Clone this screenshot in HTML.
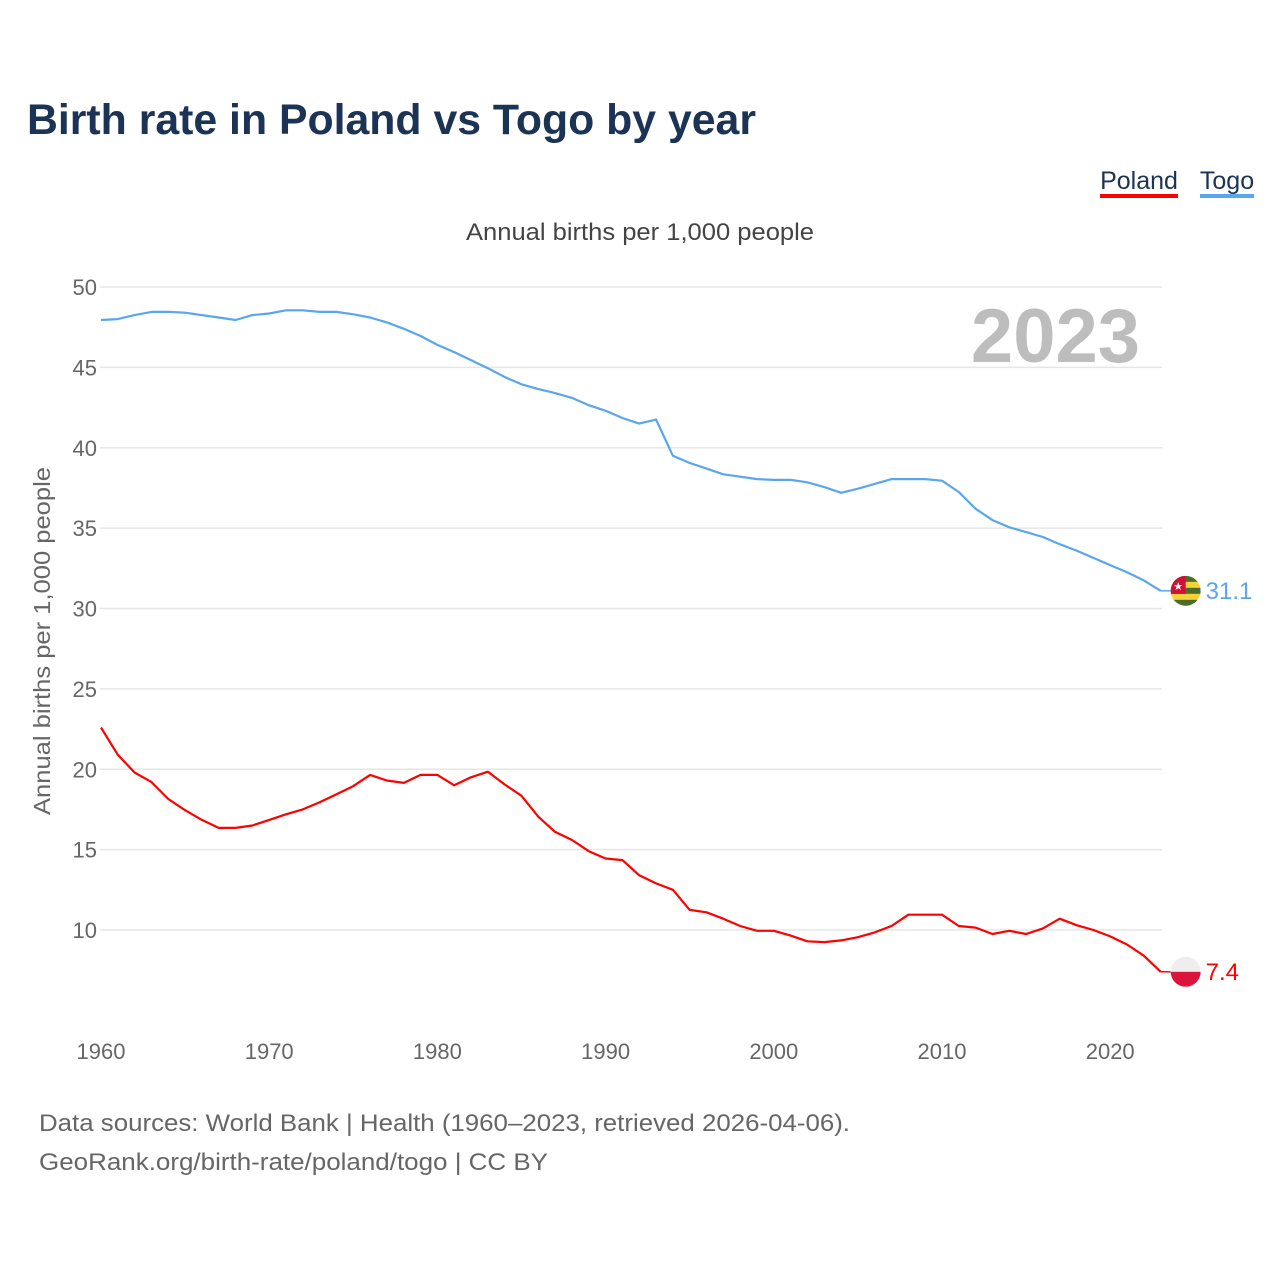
<!DOCTYPE html>
<html><head><meta charset="utf-8">
<style>
body{margin:0;background:#fff;width:1280px;height:1280px;overflow:hidden;font-family:"Liberation Sans",sans-serif;}
</style></head>
<body>
<svg id="chart" width="1280" height="1280" xmlns="http://www.w3.org/2000/svg" font-family="Liberation Sans, sans-serif">
<text x="27" y="134" font-size="43" font-weight="bold" fill="#1b3354" textLength="729" lengthAdjust="spacingAndGlyphs">Birth rate in Poland vs Togo by year</text>
<g><text x="1139" y="189" font-size="25" fill="#1b3354" text-anchor="middle">Poland</text><rect x="1100" y="194" width="78" height="4" fill="#ff0000"/></g>
<g><text x="1227" y="189" font-size="25" fill="#1b3354" text-anchor="middle">Togo</text><rect x="1200" y="194" width="54" height="4" fill="#5aa6ee"/></g>
<text x="466" y="240" font-size="24" fill="#444" textLength="348" lengthAdjust="spacingAndGlyphs">Annual births per 1,000 people</text>
<text transform="translate(50,815) rotate(-90)" font-size="23" fill="#666" textLength="348" lengthAdjust="spacingAndGlyphs">Annual births per 1,000 people</text>
<text x="1140" y="362" font-size="76" font-weight="bold" fill="#bdbdbd" text-anchor="end">2023</text>
<g id="grid"></g><g id="xt"></g><g id="series"></g>
<text x="39" y="1131" font-size="24" fill="#666" textLength="811" lengthAdjust="spacingAndGlyphs">Data sources: World Bank | Health (1960–2023, retrieved 2026-04-06).</text>
<text x="39" y="1170" font-size="24" fill="#666" textLength="509" lengthAdjust="spacingAndGlyphs">GeoRank.org/birth-rate/poland/togo | CC BY</text>
</svg>
<script>
const years=[];for(let y=1960;y<=2023;y++)years.push(y);
const poland=[22.6,20.9,19.8,19.2,18.15,17.45,16.85,16.35,16.35,16.5,16.85,17.2,17.5,17.95,18.45,18.95,19.65,19.3,19.15,19.65,19.65,19.0,19.5,19.85,19.05,18.35,17.05,16.1,15.6,14.9,14.45,14.35,13.4,12.9,12.5,11.25,11.1,10.7,10.25,9.95,9.95,9.65,9.3,9.25,9.35,9.55,9.85,10.25,10.95,10.95,10.95,10.25,10.15,9.75,9.95,9.75,10.1,10.7,10.3,10.0,9.6,9.1,8.4,7.4];
const togo=[47.95,48.0,48.25,48.45,48.45,48.4,48.25,48.1,47.95,48.25,48.35,48.55,48.55,48.45,48.45,48.3,48.1,47.8,47.4,46.95,46.4,45.95,45.45,44.95,44.4,43.95,43.65,43.4,43.1,42.65,42.3,41.85,41.5,41.75,39.5,39.05,38.7,38.35,38.2,38.05,38.0,38.0,37.85,37.55,37.2,37.45,37.75,38.05,38.05,38.05,37.95,37.25,36.2,35.5,35.05,34.75,34.45,34.0,33.6,33.15,32.7,32.25,31.75,31.1];
const yTicks=[10,15,20,25,30,35,40,45,50];
const xTicks=[1960,1970,1980,1990,2000,2010,2020];
const NS="http://www.w3.org/2000/svg";
const X=y=>101+(y-1960)*16.82;
const Y=v=>930-(v-10)*16.075;
function mk(tag,attrs,parent,txt){const e=document.createElementNS(NS,tag);for(const k in attrs)e.setAttribute(k,attrs[k]);if(txt!=null)e.textContent=txt;parent.appendChild(e);return e;}
const grid=document.getElementById('grid'),xt=document.getElementById('xt'),ser=document.getElementById('series');
yTicks.forEach(t=>{
 const l=mk('line',{x1:100,x2:1162,y1:Y(t),y2:Y(t),stroke:'#e6e6e6','stroke-width':1.5},grid);
 
 
 const tx=mk('text',{x:97,y:Y(t)+8,'font-size':22,fill:'#666','text-anchor':'end'},grid,String(t));
 
 
});
xTicks.forEach(t=>{
 const tx=mk('text',{x:X(t),y:1059,'font-size':22,fill:'#666','text-anchor':'middle'},xt,String(t));
 
 
});
function line(vals,color,name){
 const d=vals.map((v,i)=>(i?'L':'M')+X(years[i]).toFixed(1)+','+Y(v).toFixed(1)).join(' ');
 const p=mk('path',{d:d,fill:'none',stroke:color,'stroke-width':2.2,'stroke-linejoin':'round'},ser);
 
 
}
line(togo,'#5aa6ee','togo');
line(poland,'#ff0000','poland');
function endMark(vals,color,name,flag){
 const last=vals[vals.length-1],x=X(2023),y=Y(last);
 mk('line',{x1:x,x2:x+10,y1:y,y2:y,stroke:color,'stroke-width':1.5},ser);
 const g=mk('g',{},ser);
 
 
 flag(g,x+25,y);
 const t=mk('text',{x:x+45,y:y+8,'font-size':24,fill:color},ser,String(last));
 
 
}
endMark(togo,'#5aa6ee','togo',(g,cx,cy)=>{
 const id='clipT';const cp=mk('clipPath',{id:id},g);mk('circle',{cx:cx,cy:cy,r:15},cp);
 const h=30/5;const gg=mk('g',{'clip-path':'url(#'+id+')'},g);
 ['#4a6d2b','#f7d138','#4a6d2b','#f7d138','#4a6d2b'].forEach((c,i)=>mk('rect',{x:cx-15,y:cy-15+i*h,width:30,height:h+0.5,fill:c},gg));
 mk('rect',{x:cx-15,y:cy-15,width:15,height:18,fill:'#d21034'},gg);
 mk('text',{x:cx-7.5,y:cy-1,'font-size':11,fill:'#fff','text-anchor':'middle'},gg,'★');
});
endMark(poland,'#ff0000','poland',(g,cx,cy)=>{
 const cp=mk('clipPath',{id:'clipP'},g);mk('circle',{cx:cx,cy:cy,r:15},cp);
 const gg=mk('g',{'clip-path':'url(#clipP)'},g);
 mk('rect',{x:cx-15,y:cy-15,width:30,height:15,fill:'#eeeeee'},gg);
 mk('rect',{x:cx-15,y:cy,width:30,height:15,fill:'#dc143c'},gg);
});
</script>
</body></html>
